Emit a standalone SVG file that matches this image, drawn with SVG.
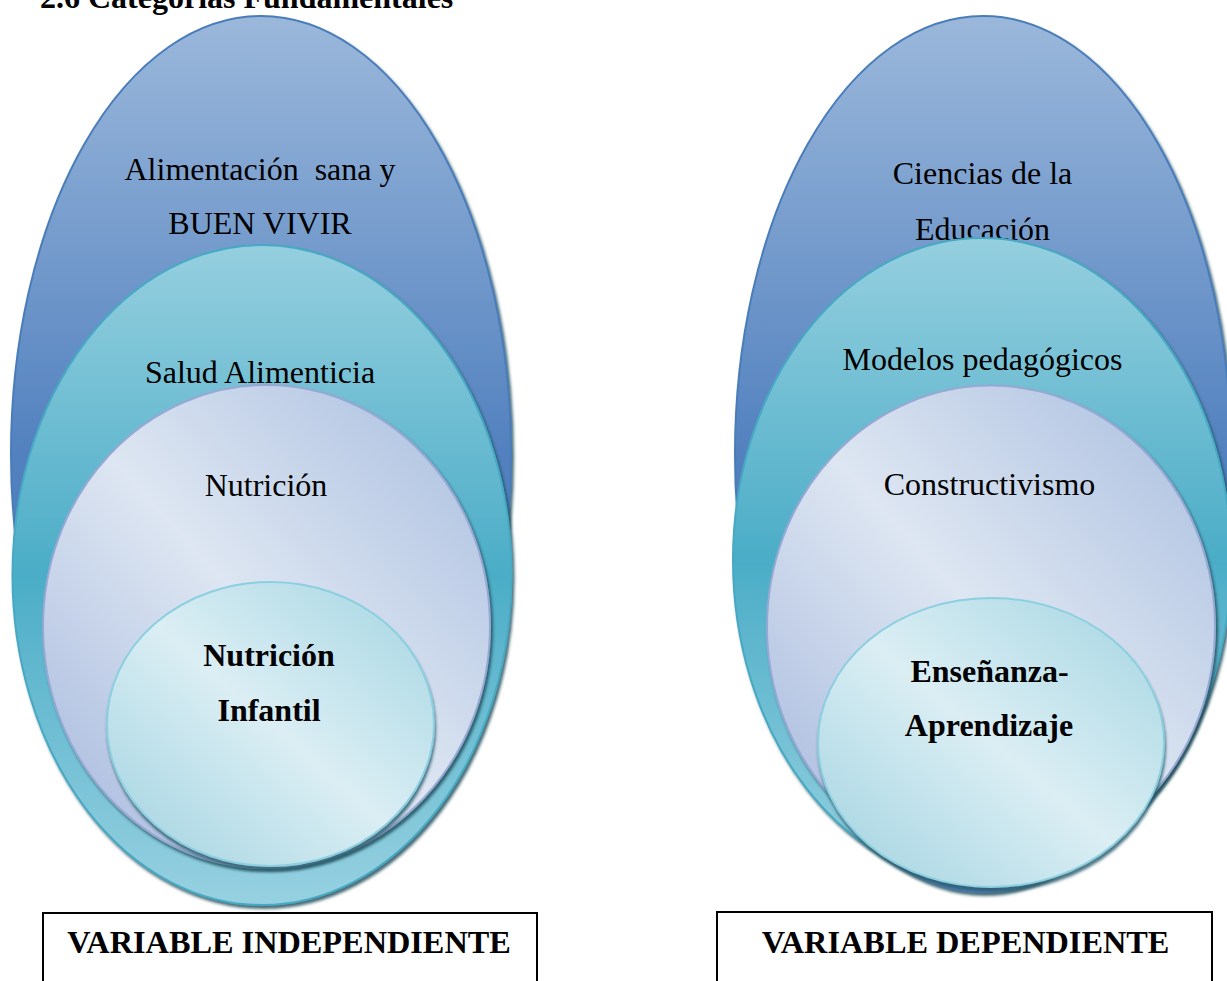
<svg xmlns="http://www.w3.org/2000/svg" width="1227" height="981" viewBox="0 0 1227 981">
<style>
.t{font-family:"Liberation Serif","Times New Roman",serif;font-size:32px;fill:#000;text-anchor:middle}
.b{font-weight:bold}
.lbl{font-family:"Liberation Serif","Times New Roman",serif;font-size:32.3px;font-weight:bold;fill:#000;text-anchor:middle}
.blue{fill:url(#gBlue);stroke:#4a7dba;stroke-width:2;filter:url(#sh)}
.teal{fill:url(#gTeal);stroke:#46a9c3;stroke-width:2;filter:url(#sh)}
.lav{fill:url(#gLav);stroke:#95a9d4;stroke-width:2;filter:url(#sh)}
.inn{fill:url(#gInn);stroke:#8ccfe0;stroke-width:2;filter:url(#sh2)}
.box{fill:none;stroke:#000;stroke-width:2}
</style>
<defs>
<linearGradient id="gBlue" x1="0" y1="0" x2="0" y2="1">
<stop offset="0" stop-color="#9bb8db"/>
<stop offset="0.5" stop-color="#5281bf"/>
<stop offset="1" stop-color="#4a79b6"/>
</linearGradient>
<linearGradient id="gTeal" x1="0" y1="0" x2="0" y2="1">
<stop offset="0" stop-color="#95cfdf"/>
<stop offset="0.5" stop-color="#4badc7"/>
<stop offset="1" stop-color="#97d1e1"/>
</linearGradient>
<linearGradient id="gLav" x1="0" y1="1" x2="1" y2="0">
<stop offset="0" stop-color="#a3b6dc"/>
<stop offset="0.5" stop-color="#dde6f2"/>
<stop offset="1" stop-color="#a8bddf"/>
</linearGradient>
<linearGradient id="gInn" x1="0" y1="1" x2="1" y2="0">
<stop offset="0" stop-color="#9fd2e0"/>
<stop offset="0.5" stop-color="#dbeef4"/>
<stop offset="1" stop-color="#a3d5e2"/>
</linearGradient>
<filter id="sh" x="-10%" y="-10%" width="120%" height="120%">
<feDropShadow dx="2" dy="3" stdDeviation="1.5" flood-color="#1c4654" flood-opacity="0.8"/>
</filter>
<filter id="sh2" x="-10%" y="-10%" width="120%" height="120%">
<feDropShadow dx="1" dy="4" stdDeviation="1.5" flood-color="#2f5f70" flood-opacity="0.85"/>
</filter>
</defs>
<rect width="1227" height="981" fill="#fff"/>
<text id="title" x="40" y="8" class="t b" style="text-anchor:start">2.6 Categorías Fundamentales</text>

<g id="left">
<g id="n-alimentacion">
<ellipse class="blue" cx="261" cy="454" rx="250" ry="438"/>
<text class="t" x="260" y="180" style="white-space:pre">Alimentación  sana y</text>
<text class="t" x="260" y="234">BUEN VIVIR</text>
</g>
<g id="n-salud">
<ellipse class="teal" cx="262" cy="575" rx="249.5" ry="330"/>
<text class="t" x="260" y="383">Salud Alimenticia</text>
</g>
<g id="n-nutricion">
<ellipse class="lav" cx="266.5" cy="626.5" rx="223.5" ry="241.5"/>
<text class="t" x="266" y="496">Nutrición</text>
</g>
<g id="n-nutricion-infantil">
<ellipse class="inn" cx="270.5" cy="724" rx="163.5" ry="142"/>
<text class="t b" x="269" y="666">Nutrición</text>
<text class="t b" x="269" y="721">Infantil</text>
</g>
<g id="n-var-indep">
<path class="box" d="M43 982 V913 H537 V982"/>
<text class="lbl" x="289" y="953">VARIABLE INDEPENDIENTE</text>
</g>
</g>

<g id="right">
<g id="n-ciencias">
<ellipse class="blue" cx="983" cy="454" rx="248" ry="438"/>
<text class="t" x="982.5" y="184">Ciencias de la</text>
<text class="t" x="982.5" y="240">Educación</text>
</g>
<g id="n-modelos">
<ellipse class="teal" cx="982" cy="560" rx="249" ry="322"/>
<text class="t" x="982.5" y="370">Modelos pedagógicos</text>
</g>
<g id="n-constructivismo">
<ellipse class="lav" cx="991" cy="627" rx="224" ry="241.5"/>
<text class="t" x="989.5" y="495">Constructivismo</text>
</g>
<g id="n-ensenanza">
<ellipse class="inn" cx="991" cy="742.5" rx="173" ry="144.5"/>
<text class="t b" x="989.5" y="682">Enseñanza-</text>
<text class="t b" x="989" y="736">Aprendizaje</text>
</g>
<g id="n-var-dep">
<path class="box" d="M717 982 V912 H1212 V982"/>
<text class="lbl" x="965.5" y="953">VARIABLE DEPENDIENTE</text>
</g>
</g>

<g id="connectors"/>
</svg>
